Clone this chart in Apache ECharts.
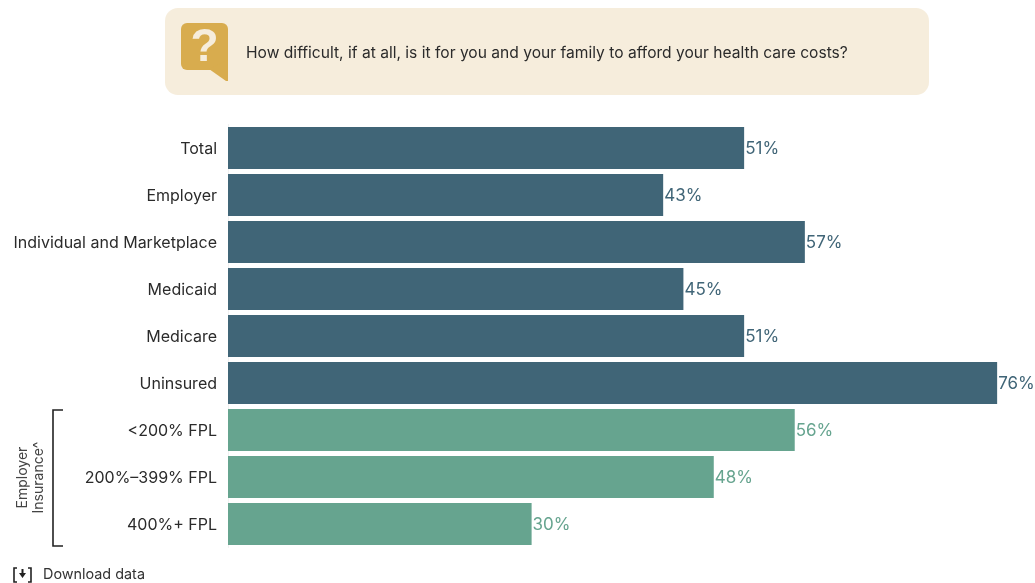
<!DOCTYPE html>
<html>
<head>
<meta charset="utf-8">
<style>html,body{margin:0;padding:0;background:#fff}#chart{width:1035px;height:583px}</style>
<script src="https://cdn.jsdelivr.net/npm/echarts@6/dist/echarts.min.js"></script>
</head>
<body>
<div id="chart"></div>
<script>
// Share of adults who find health care costs difficult to afford, by coverage group
const categories = ['Total','Employer','Individual and Marketplace','Medicaid','Medicare','Uninsured','<200% FPL','200%–399% FPL','400%+ FPL'];
const values = [51,43,57,45,51,76,56,48,30];
const groups = ['coverage','coverage','coverage','coverage','coverage','coverage','income','income','income'];
const groupColors = {coverage:'#406577', income:'#66a48f'};
const question = 'How difficult, if at all, is it for you and your family to afford your health care costs?';
const FONT = 'Inter, "Liberation Sans", sans-serif';

const chart = echarts.init(document.getElementById('chart'), null, {renderer:'canvas'});
chart.setOption({
  animation:false,
  backgroundColor:'#ffffff',
  textStyle:{fontFamily:FONT},
  grid:{left:228,top:124.5,width:799.5,height:423,containLabel:false},
  xAxis:{type:'value',min:0,max:79,show:false},
  yAxis:{
    type:'category',inverse:true,data:categories,
    axisLine:{show:true,lineStyle:{color:'#f1f1f1',width:1}},
    axisTick:{show:false},
    axisLabel:{color:'#2b2b2b',fontSize:16,fontFamily:FONT,margin:11,verticalAlign:'top',lineHeight:1,padding:[1,0,0,0]}
  },
  series:[{
    type:'bar',barWidth:42,
    data:values.map((v,i)=>({
      value:v,
      itemStyle:{color:groupColors[groups[i]]},
      label:{color:groupColors[groups[i]]}
    })),
    label:{show:true,position:'right',distance:1,offset:[0,1],fontSize:17,fontFamily:FONT,formatter:p=>p.value+'%'}
  }],
  graphic:[
    {type:'rect',shape:{x:165,y:8,width:764,height:87,r:13},style:{fill:'#f6eddc'}},
    // speech-bubble question icon
    {type:'rect',shape:{x:181,y:23,width:47,height:47,r:6},style:{fill:'#d8ac4e'}},
    {type:'polygon',shape:{points:[[209,69],[228,60],[228,81],[226,81]]},style:{fill:'#d8ac4e'}},
    {type:'text',style:{x:204.5,y:48,text:'?',fill:'#f6eddc',font:'bold 46px "Liberation Sans", sans-serif',textAlign:'center',textVerticalAlign:'middle'}},
    {type:'text',style:{x:246,y:53,text:question,fill:'#2b2b2b',font:'15.6px '+FONT,textVerticalAlign:'middle'}},
    // bracket around the employer-insurance rows
    {type:'polyline',shape:{points:[[63,410],[53,410],[53,546],[63,546]]},style:{stroke:'#222',lineWidth:1.6,fill:null}},
    {type:'text',rotation:Math.PI/2,x:31,y:477.5,style:{x:0,y:0,text:'Employer\nInsurance^',fill:'#444',font:'14px '+FONT,lineHeight:16,textAlign:'center',textVerticalAlign:'middle'}},
    // download link
    {type:'polyline',shape:{points:[[17,568],[14,568],[14,582],[17,582]]},style:{stroke:'#222',lineWidth:1.6,fill:null}},
    {type:'polyline',shape:{points:[[28,568],[31,568],[31,582],[28,582]]},style:{stroke:'#222',lineWidth:1.6,fill:null}},
    {type:'polygon',shape:{points:[[21.5,569],[23.5,569],[23.5,573],[26,573],[22.5,578],[19,573],[21.5,573]]},style:{fill:'#222'}},
    {type:'text',style:{x:43,y:575,text:'Download data',fill:'#333',font:'14.4px '+FONT,textVerticalAlign:'middle'}}
  ]
});
</script>
</body>
</html>
